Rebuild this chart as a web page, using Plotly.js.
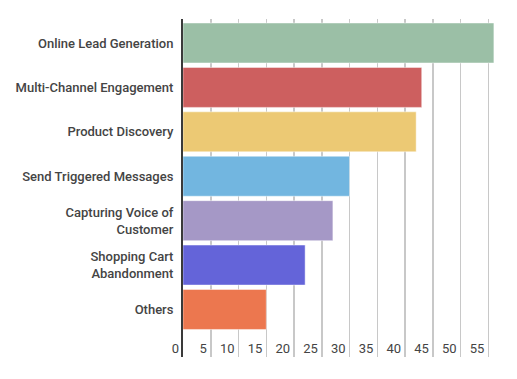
<!DOCTYPE html>
<html>
<head>
<meta charset="utf-8">
<script src="https://cdn.plot.ly/plotly-3.0.1.min.js"></script>
<style>html,body{margin:0;padding:0;background:#fff;}#chart{width:517px;height:379px;}</style>
</head>
<body>
<div id="chart"></div>
<script>
const categories = [
  "Online Lead Generation",
  "Multi-Channel Engagement",
  "Product Discovery",
  "Send Triggered Messages",
  "Capturing Voice of<br>Customer",
  "Shopping Cart<br>Abandonment",
  "Others"
];
const values = [56, 43, 42, 30, 27, 22, 15];
const barColors = ["#9bbfa6", "#cd5f5f", "#ecc974", "#72b6e0", "#a598c6", "#6464d9", "#ec774f"];
const tickValues = [0, 5, 10, 15, 20, 25, 30, 35, 40, 45, 50, 55];

const trace = {
  type: "bar",
  orientation: "h",
  x: values,
  y: categories,
  marker: {color: barColors, line: {color: "rgba(255,255,255,0.45)", width: 1}},
  hoverinfo: "x+y"
};

const layout = {
  width: 517,
  height: 379,
  margin: {l: 183, r: 22, t: 19, b: 22},
  paper_bgcolor: "#fff",
  plot_bgcolor: "#fff",
  showlegend: false,
  bargap: 0.1,
  font: {family: "Roboto, sans-serif", size: 13, color: "#444"},
  xaxis: {
    range: [0, 56.2],
    tickvals: tickValues,
    ticktext: tickValues.map(String),
    ticklabelposition: "outside left",
    ticklabelstandoff: -18,
    ticklabelshift: -4,
    showgrid: true,
    gridcolor: "#c8c8c8",
    gridwidth: 1.5,
    zeroline: false,
    showline: false,
    ticks: "",
    tickfont: {family: "Roboto, sans-serif", size: 13, color: "#444"},
    fixedrange: true
  },
  yaxis: {
    type: "category",
    range: [7.07, -0.54],
    showgrid: false,
    zeroline: false,
    showline: true,
    linecolor: "#3a3a3a",
    linewidth: 2,
    ticks: "",
    ticklabelstandoff: 5,
    tickfont: {family: "Roboto, sans-serif", size: 13, color: "#444", weight: 500},
    fixedrange: true
  }
};

Plotly.newPlot("chart", [trace], layout, {displayModeBar: false, staticPlot: true});
</script>
</body>
</html>
